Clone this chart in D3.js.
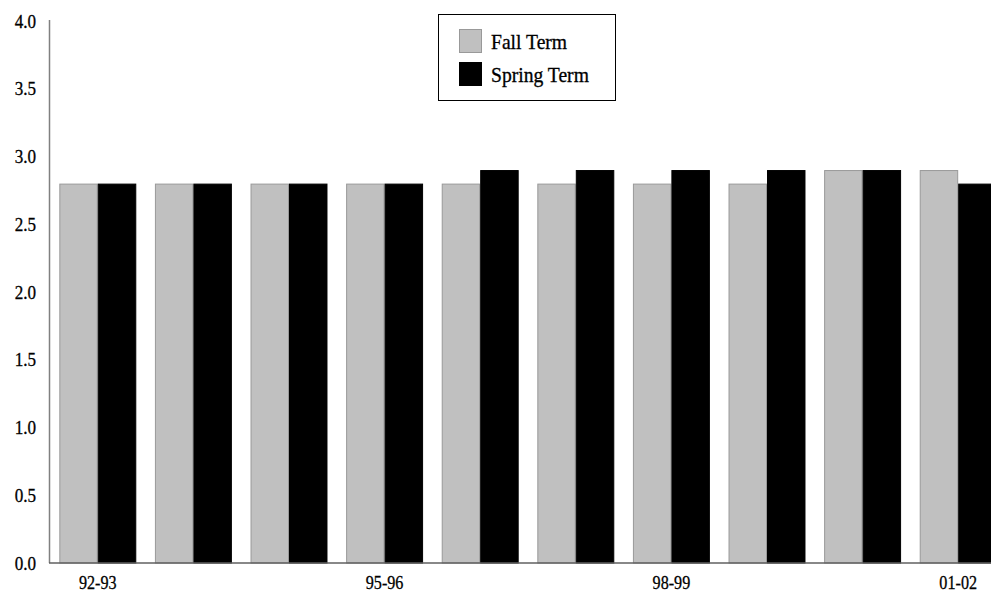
<!DOCTYPE html>
<html><head><meta charset="utf-8">
<script src="https://cdn.jsdelivr.net/npm/d3@7"></script>
<style>html,body{margin:0;padding:0;background:#fff;overflow:hidden}svg{display:block}</style>
</head><body>
<svg id="chart" width="991" height="592"></svg>
<script>
const categories = ["92-93","93-94","94-95","95-96","96-97","97-98","98-99","99-00","00-01","01-02"];
const fallTerm = [2.8,2.8,2.8,2.8,2.8,2.8,2.8,2.8,2.9,2.9];
const springTerm = [2.8,2.8,2.8,2.8,2.9,2.9,2.9,2.9,2.9,2.8];
const seriesNames = ["Fall Term","Spring Term"];
const xTickLabels = ["92-93","95-96","98-99","01-02"];
const yTicks = [0,0.5,1,1.5,2,2.5,3,3.5,4];

const svg = d3.select("#chart");
const font = "'Liberation Serif', 'Times New Roman', serif";
const x0 = d3.scaleBand().domain(categories).range([50, 1006]).paddingInner(0.195).paddingOuter(0.0975);
const x1 = d3.scaleBand().domain(seriesNames).range([0, x0.bandwidth()]);
const y = d3.scaleLinear().domain([0, 4]).range([563, 21]);
const colors = {"Fall Term": "#c0c0c0", "Spring Term": "#000000"};
const strokes = {"Fall Term": "#999999", "Spring Term": "#000000"};

const rows = categories.map((c, i) => ({cat: c, vals: [
  {name: "Fall Term", v: fallTerm[i]}, {name: "Spring Term", v: springTerm[i]}]}));

const g = svg.append("g");
g.selectAll("g.grp").data(rows).join("g").attr("class","grp")
  .attr("transform", d => `translate(${x0(d.cat)},0)`)
  .selectAll("rect").data(d => d.vals).join("rect")
  .attr("x", d => x1(d.name) + 0.5)
  .attr("y", d => y(d.v) + 0.5)
  .attr("width", x1.bandwidth() - 1)
  .attr("height", d => y(0) - y(d.v) - 0.5)
  .attr("fill", d => colors[d.name])
  .attr("stroke", d => strokes[d.name])
  .attr("stroke-width", 1);

function styleText(sel, size, sx) {
  sel.attr("font-family", font).attr("font-size", size).attr("fill", "#000")
    .attr("stroke", "#000").attr("stroke-width", 0.3);
  sel.each(function() {
    const t = d3.select(this);
    const xv = +t.attr("x") || 0;
    const yv = +t.attr("y") || 0;
    t.attr("x", 0).attr("y", 0).attr("transform", `translate(${xv},${yv}) scale(${sx},1)`);
  });
}

// Axes
const yAxis = d3.axisLeft(y).tickValues(yTicks).tickFormat(d3.format(".1f")).tickSize(0).tickPadding(13.5);
const ya = svg.append("g").attr("transform", "translate(49.5,0)").call(yAxis);
ya.select(".domain").attr("stroke", "#808080").attr("stroke-width", 1.5).attr("d", `M0,${y(4)-1}V${y(0)}`);
ya.selectAll(".tick text").call(styleText, 19, 0.9);

const xAxis = d3.axisBottom(x0).tickValues(xTickLabels).tickSize(0).tickPadding(12.5);
const xa = svg.append("g").attr("transform", `translate(0,${y(0)})`).call(xAxis);
xa.select(".domain").attr("stroke", "#606060").attr("stroke-width", 1.5).attr("d", `M49,0H991`);
xa.selectAll(".tick text").call(styleText, 19, 0.85);

// Legend
const lg = svg.append("g");
lg.append("rect").attr("x", 438.5).attr("y", 14.5).attr("width", 177).attr("height", 86)
  .attr("fill", "#fff").attr("stroke", "#000").attr("stroke-width", 1);
seriesNames.forEach((n, i) => {
  lg.append("rect").attr("x", 459.5).attr("y", 29.5 + i*33).attr("width", 22).attr("height", 23)
    .attr("fill", colors[n]).attr("stroke", strokes[n]).attr("stroke-width", 1);
  lg.append("text").attr("x", 491).attr("y", 49 + i*33).text(n).call(styleText, 20, 0.98);
});
</script>
</body></html>
